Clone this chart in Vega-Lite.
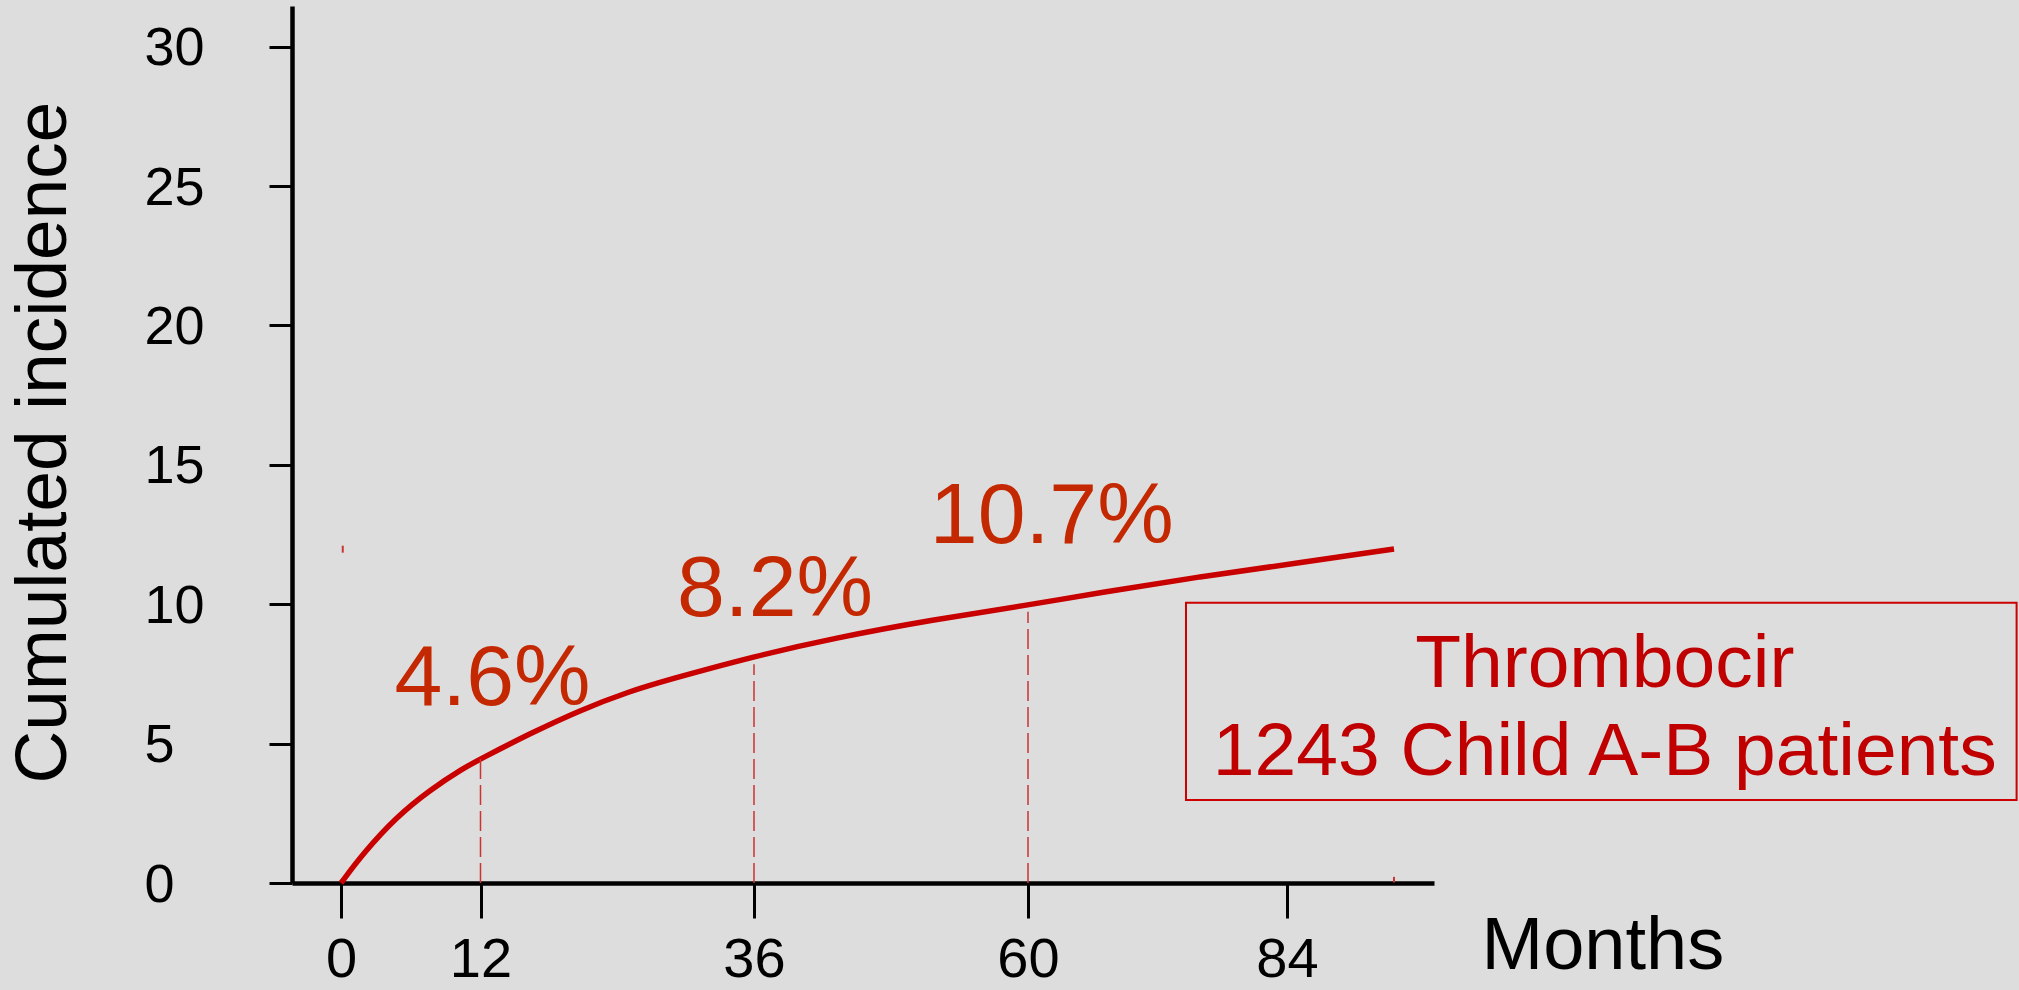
{
  "$schema": "https://vega.github.io/schema/vega-lite/v6.json",
  "width": 1142,
  "height": 877,
  "autosize": {"type": "none"},
  "padding": {"left": 292, "top": 6, "right": 585, "bottom": 107},
  "background": "#dddddd",
  "config": {
    "view": {"stroke": null},
    "font": "Liberation Sans",
    "text": {"font": "Liberation Sans"}
  },
  "datasets": {
    "curve": [
      {"month": 0, "pct": 0},
      {"month": 1.92, "pct": 1.07},
      {"month": 4.79, "pct": 2.38},
      {"month": 7.66, "pct": 3.34},
      {"month": 10.52, "pct": 4.12},
      {"month": 12.1, "pct": 4.47},
      {"month": 16.34, "pct": 5.36},
      {"month": 20.73, "pct": 6.2},
      {"month": 25.12, "pct": 6.88},
      {"month": 28.38, "pct": 7.28},
      {"month": 36.09, "pct": 8.14},
      {"month": 42.95, "pct": 8.78},
      {"month": 51.7, "pct": 9.45},
      {"month": 60.06, "pct": 9.97},
      {"month": 66.67, "pct": 10.42},
      {"month": 75.94, "pct": 10.99},
      {"month": 85.2, "pct": 11.49},
      {"month": 93.9, "pct": 11.98}
    ],
    "drops": [
      {"month": 12, "pct": 0, "top": 4.47},
      {"month": 36, "pct": 0, "top": 7.85},
      {"month": 60, "pct": 0, "top": 9.73}
    ],
    "marks": [
      {"month": 0.15, "pct": 11.85, "top": 12.1},
      {"month": 93.9, "pct": 0.02, "top": 0.22}
    ],
    "labels": [
      {"month": 13.05, "pct": 6.38, "label": "4.6%"},
      {"month": 37.84, "pct": 9.58, "label": "8.2%"},
      {"month": 62.2, "pct": 12.2, "label": "10.7%"}
    ],
    "box": [
      {"month": 74.64, "month2": 151.5, "pct": 2.98, "top": 10.05}
    ],
    "boxtext": [
      {"month": 113.4, "pct": 7.03, "label": "Thrombocir"},
      {"month": 113.4, "pct": 3.87, "label": "1243 Child A-B patients"}
    ]
  },
  "layer": [
    {
      "data": {"name": "curve"},
      "mark": {"type": "line", "color": "#c80000", "strokeWidth": 5.5, "interpolate": "basis"},
      "encoding": {
        "x": {
          "field": "month", "type": "quantitative",
          "scale": {"domain": [-4.2, 0, 12, 36, 60, 84, 97.6], "range": [0, 49, 188.5, 462, 736, 995, 1142], "nice": false, "zero": false},
          "axis": {
            "values": [0, 12, 36, 60, 84],
            "grid": false,
            "domainColor": "black", "domainWidth": 4.5,
            "tickColor": "black", "tickWidth": 3, "tickSize": 35,
            "labelFont": "Liberation Sans", "labelFontSize": 56, "labelColor": "black",
            "labelPadding": 14, "labelFlush": false, "labelBaseline": "top",
            "title": "Months",
            "titleFont": "Liberation Sans", "titleFontSize": 74, "titleFontWeight": "normal", "titleColor": "black",
            "titleAlign": "left", "titleAnchor": "start", "titleBaseline": "alphabetic",
            "titleX": 1189, "titleY": 85
          }
        },
        "y": {
          "field": "pct", "type": "quantitative",
          "scale": {"domain": [0, 31.46], "nice": false, "zero": true},
          "axis": {
            "values": [0, 5, 10, 15, 20, 25, 30],
            "grid": false,
            "domainColor": "black", "domainWidth": 4.5,
            "tickColor": "black", "tickWidth": 3, "tickSize": 23,
            "labelFont": "Liberation Sans", "labelFontSize": 54, "labelColor": "black",
            "labelAlign": "left", "labelPadding": 125, "labelBaseline": "middle", "labelOffset": 2, "labelFlush": false,
            "title": "Cumulated incidence",
            "titleFont": "Liberation Sans", "titleFontSize": 73, "titleFontWeight": "normal", "titleColor": "black",
            "titleAngle": -90, "titleAlign": "center", "titleBaseline": "alphabetic",
            "titleX": -227, "titleY": 436
          }
        }
      }
    },
    {
      "data": {"name": "drops"},
      "mark": {"type": "rule", "color": "#cc3333", "strokeWidth": 1.5, "strokeDash": [20, 6]},
      "encoding": {
        "x": {"field": "month", "type": "quantitative"},
        "y": {"field": "pct", "type": "quantitative"},
        "y2": {"field": "top"}
      }
    },
    {
      "data": {"name": "marks"},
      "mark": {"type": "rule", "color": "#cc3333", "strokeWidth": 2},
      "encoding": {
        "x": {"field": "month", "type": "quantitative"},
        "y": {"field": "pct", "type": "quantitative"},
        "y2": {"field": "top"}
      }
    },
    {
      "data": {"name": "box"},
      "mark": {"type": "rect", "fill": null, "fillOpacity": 0, "stroke": "#cc0000", "strokeWidth": 2},
      "encoding": {
        "x": {"field": "month", "type": "quantitative"},
        "x2": {"field": "month2"},
        "y": {"field": "pct", "type": "quantitative"},
        "y2": {"field": "top"}
      }
    },
    {
      "data": {"name": "labels"},
      "mark": {"type": "text", "color": "#c42800", "fontSize": 86, "align": "center", "baseline": "alphabetic", "font": "Liberation Sans"},
      "encoding": {
        "x": {"field": "month", "type": "quantitative"},
        "y": {"field": "pct", "type": "quantitative"},
        "text": {"field": "label"}
      }
    },
    {
      "data": {"name": "boxtext"},
      "mark": {"type": "text", "color": "#c00000", "fontSize": 75, "align": "center", "baseline": "alphabetic", "font": "Liberation Sans"},
      "encoding": {
        "x": {"field": "month", "type": "quantitative"},
        "y": {"field": "pct", "type": "quantitative"},
        "text": {"field": "label"}
      }
    }
  ]
}
